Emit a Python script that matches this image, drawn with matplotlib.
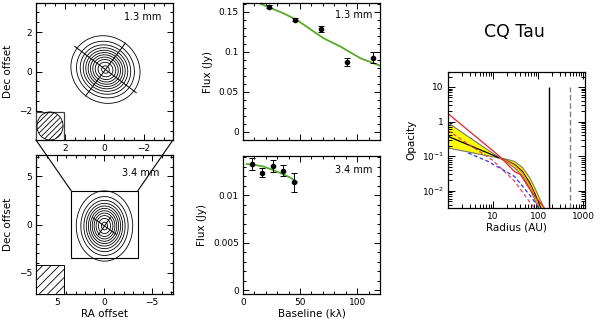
import numpy as np
import matplotlib
matplotlib.use("Agg")
from matplotlib import pyplot as plt
from matplotlib.patches import Rectangle, Ellipse, ConnectionPatch
from matplotlib.ticker import MultipleLocator, FixedLocator, FixedFormatter

plt.rcParams["font.family"] = ["DejaVu Sans"]
plt.rcParams["hatch.linewidth"] = 0.6

# ---- maps: model parameters
levels = [0.08, 0.17, 0.26, 0.35, 0.44, 0.53, 0.62, 0.71, 0.80, 0.89, 0.97]
map13 = dict(sig_maj=0.80, sig_min=0.74, pa=53.0, x0=-0.05, y0=0.1, lim=3.47,
             axis_pa=53.0, axis_maj=1.95, axis_min=1.67)
map34 = dict(sig_maj=1.62, sig_min=1.32, pa=0.0, x0=0.0, y0=-0.15, lim=7.2,
             axis_pa=55.0, axis_maj=1.5, axis_min=1.1)
zoom_half = 3.5  # 1.3 mm field shown inside the 3.4 mm map

# ---- visibilities
base13 = [22.4, 45.2, 68.0, 91.0, 114.0]
flux13 = [0.1566, 0.140, 0.1288, 0.0879, 0.0929]
err13 = [0.0015, 0.002, 0.0037, 0.005, 0.0067]
model13_x = [0, 10.6, 35.6, 47, 70.6, 85.3, 103, 120.7]
model13_y = [0.167, 0.163, 0.148, 0.140, 0.117, 0.1067, 0.092, 0.0825]

base34 = [7.6, 16.9, 26.1, 35.0, 44.4]
flux34 = [0.01326, 0.01235, 0.01305, 0.01256, 0.01134]
err34 = [0.00066, 0.00047, 0.00066, 0.0006, 0.001]
model34_x = [3.2, 10, 18, 26.4, 35, 42, 47.4]
model34_y = [0.01326, 0.01318, 0.01300, 0.01263, 0.01220, 0.01180, 0.01134]

# ---- opacity profiles
radius = [1, 2, 4, 8, 14, 20, 30, 45, 65, 85, 100, 120, 140]
tau_hi = [0.92, 0.497, 0.27, 0.146, 0.089, 0.082, 0.071, 0.047, 0.024, 0.012, 0.0075, 0.0045, 0.0028]
tau_lo = [0.173, 0.145, 0.121, 0.102, 0.088, 0.068, 0.046, 0.027, 0.012, 0.0055, 0.0032, 0.0018, 0.001]
tau_mid = [0.375, 0.257, 0.176, 0.121, 0.089, 0.075, 0.058, 0.036, 0.017, 0.0082, 0.005, 0.0028, 0.0016]
orange_r = [14, 20, 30, 45, 71, 90, 105]
orange_t = [0.089, 0.073, 0.055, 0.033, 0.012, 0.0058, 0.0035]
red_r = [1, 14, 30, 40, 71, 140, 166]
red_t = [1.7, 0.099, 0.036, 0.03, 0.0095, 0.0031, 0.0025]
reddash_r = [1, 10, 30, 60, 90]
reddash_t = [0.55, 0.075, 0.019, 0.0055, 0.0028]
blue_r = [2.8, 7.7, 30, 65, 100, 115]
blue_t = [0.124, 0.071, 0.026, 0.0076, 0.0035, 0.0025]
r_out = 175
r_gas = 515

fs_tick = 6.5
fs_lab = 7.5


def style(ax):
    ax.tick_params(which="both", direction="in", top=True, right=True,
                   labelsize=fs_tick, width=0.7, pad=3)
    ax.tick_params(which="major", length=4)
    ax.tick_params(which="minor", length=2)
    for s in ax.spines.values():
        s.set_linewidth(0.9)


def model_map(ax, p):
    g = np.linspace(-p["lim"], p["lim"], 301)
    X, Y = np.meshgrid(g, g)
    t = np.radians(p["pa"])
    a = (X - p["x0"]) * np.sin(t) + (Y - p["y0"]) * np.cos(t)
    b = (X - p["x0"]) * np.cos(t) - (Y - p["y0"]) * np.sin(t)
    img = np.exp(-0.5 * (a ** 2 / p["sig_maj"] ** 2 + b ** 2 / p["sig_min"] ** 2))
    ax.contour(X, Y, img, levels=levels, colors="k", linewidths=0.6)
    t = np.radians(p["axis_pa"])
    for ang, L in [(t, p["axis_maj"]), (t + np.pi / 2, p["axis_min"])]:
        dx, dy = L * np.sin(ang), L * np.cos(ang)
        ax.plot([p["x0"] + dx, p["x0"] - dx], [p["y0"] + dy, p["y0"] - dy], color="k", lw=0.7)
    ax.set_xlim(p["lim"], -p["lim"])
    ax.set_ylim(-p["lim"], p["lim"])


fig = plt.figure(figsize=(6, 3.2), dpi=100)

# top-left: 1.3 mm map
ax1 = fig.add_axes([0.06, 0.5625, 0.2283, 0.428])
model_map(ax1, map13)
ax1.xaxis.set_major_locator(MultipleLocator(2))
ax1.xaxis.set_minor_locator(MultipleLocator(0.5))
ax1.yaxis.set_major_locator(MultipleLocator(2))
ax1.yaxis.set_minor_locator(MultipleLocator(0.5))
ax1.xaxis.set_major_formatter(plt.FuncFormatter(lambda v, _: f"{v:g}".replace("-", "\u2212")))
ax1.yaxis.set_major_formatter(plt.FuncFormatter(lambda v, _: f"{v:g}".replace("-", "\u2212")))
ax1.add_patch(Rectangle((3.47, -3.47), -1.42, 1.42, facecolor="white", edgecolor="0.25", lw=0.9, zorder=3))
ax1.add_patch(Ellipse((2.76, -2.76), 1.32, 1.42, facecolor="none", edgecolor="k",
                      hatch="//////", lw=0.6, zorder=4))
ax1.text(-2.9, 2.75, "1.3 mm", fontsize=fs_tick + 0.5, ha="right", va="center")
ax1.set_ylabel("Dec offset", fontsize=fs_lab)
style(ax1)

# bottom-left: 3.4 mm map
ax2 = fig.add_axes([0.06, 0.08125, 0.2283, 0.434])
model_map(ax2, map34)
ax2.xaxis.set_major_locator(MultipleLocator(5))
ax2.xaxis.set_minor_locator(MultipleLocator(1))
ax2.yaxis.set_major_locator(MultipleLocator(5))
ax2.yaxis.set_minor_locator(MultipleLocator(1))
ax2.xaxis.set_major_formatter(plt.FuncFormatter(lambda v, _: f"{v:g}".replace("-", "\u2212")))
ax2.yaxis.set_major_formatter(plt.FuncFormatter(lambda v, _: f"{v:g}".replace("-", "\u2212")))
ax2.add_patch(Rectangle((-zoom_half, -zoom_half), 2 * zoom_half, 2 * zoom_half,
                        facecolor="none", edgecolor="k", lw=0.8))
ax2.add_patch(Rectangle((7.2, -7.2), -2.9, 3.0, facecolor="white", edgecolor="k",
                        hatch="////", lw=0.7, zorder=4))
ax2.text(-5.8, 5.3, "3.4 mm", fontsize=fs_tick + 0.5, ha="right", va="center")
ax2.set_xlabel("RA offset", fontsize=fs_lab, labelpad=1)
ax2.set_ylabel("Dec offset", fontsize=fs_lab)
style(ax2)

for xa, xb in [(map13["lim"], zoom_half), (-map13["lim"], -zoom_half)]:
    con = ConnectionPatch(xyA=(xa, -map13["lim"]), coordsA=ax1.transData,
                          xyB=(xb, zoom_half), coordsB=ax2.transData, color="k", lw=0.8)
    fig.add_artist(con)

# middle top: 1.3 mm visibilities
green = "#5aaa2a"
ax3 = fig.add_axes([0.405, 0.5625, 0.2283, 0.428])
ax3.plot(model13_x, model13_y, color=green, lw=1.3)
ax3.errorbar(base13, flux13, yerr=err13, fmt="o", color="k", ms=3, capsize=2, elinewidth=0.7, capthick=0.7)
ax3.set_xlim(0, 120)
ax3.set_ylim(-0.01, 0.161)
ax3.xaxis.set_major_locator(MultipleLocator(50))
ax3.xaxis.set_minor_locator(MultipleLocator(10))
ax3.yaxis.set_major_locator(MultipleLocator(0.05))
ax3.yaxis.set_minor_locator(MultipleLocator(0.01))
ax3.yaxis.set_major_formatter(plt.FuncFormatter(lambda v, _: f"{v:g}"))
ax3.set_xticklabels([])
ax3.text(113, 0.146, "1.3 mm", fontsize=fs_tick + 0.5, ha="right", va="center")
ax3.set_ylabel("Flux (Jy)", fontsize=fs_lab)
style(ax3)

# middle bottom: 3.4 mm visibilities
ax4 = fig.add_axes([0.405, 0.08125, 0.2283, 0.431])
ax4.plot(model34_x, model34_y, color=green, lw=1.3)
ax4.errorbar(base34, flux34, yerr=err34, fmt="o", color="k", ms=3, capsize=2, elinewidth=0.7, capthick=0.7)
ax4.set_xlim(0, 120)
ax4.set_ylim(-0.0004, 0.0141)
ax4.xaxis.set_major_locator(MultipleLocator(50))
ax4.xaxis.set_minor_locator(MultipleLocator(10))
ax4.yaxis.set_major_locator(MultipleLocator(0.005))
ax4.yaxis.set_minor_locator(MultipleLocator(0.001))
ax4.yaxis.set_major_formatter(plt.FuncFormatter(lambda v, _: f"{v:g}"))
ax4.text(113, 0.0126, "3.4 mm", fontsize=fs_tick + 0.5, ha="right", va="center")
ax4.set_xlabel("Baseline (k\u03bb)", fontsize=fs_lab, labelpad=1)
ax4.set_ylabel("Flux (Jy)", fontsize=fs_lab)
style(ax4)

# right: opacity profile
ax5 = fig.add_axes([0.7467, 0.35, 0.2283, 0.425])
ax5.set_xscale("log")
ax5.set_yscale("log")
ax5.fill_between(radius, tau_lo, tau_hi, color="#ffff00", lw=0)
ax5.plot(radius, tau_hi, color="0.45", lw=0.8)
ax5.plot(radius, tau_lo, color="0.45", lw=0.8)
ax5.plot(radius, tau_mid, color="k", lw=0.9)
ax5.plot(orange_r, orange_t, color="#ff8c00", lw=0.9)
ax5.plot(red_r, red_t, color="#e8202a", lw=0.9)
ax5.plot(reddash_r, reddash_t, color="#e8406a", lw=0.9, ls=(0, (3, 2)))
ax5.plot(blue_r, blue_t, color="#3030e0", lw=0.9, ls=(0, (3, 2)))
ax5.vlines(r_out, 0.001, 10, color="k", lw=1.0)
ax5.vlines(r_gas, 0.001, 10, color="0.5", lw=1.0, ls=(0, (4, 2)))
ax5.set_xlim(1, 1100)
ax5.set_ylim(0.0032, 27)
ax5.xaxis.set_major_locator(FixedLocator([10, 100, 1000]))
ax5.xaxis.set_major_formatter(FixedFormatter(["10", "100", "1000"]))
ax5.yaxis.set_major_locator(FixedLocator([0.01, 0.1, 1, 10]))
ax5.yaxis.set_major_formatter(FixedFormatter(["$10^{-2}$", "$10^{-1}$", "1", "10"]))
ax5.set_xlabel("Radius (AU)", fontsize=fs_lab, labelpad=1)
ax5.set_ylabel("Opacity", fontsize=fs_lab)
style(ax5)
ax5.tick_params(which="minor", length=3)
ax5.tick_params(which="major", length=5)

fig.text(0.858, 0.9, "CQ Tau", fontsize=12.5, ha="center", va="center")

fig.savefig("out.png", dpi=100)
